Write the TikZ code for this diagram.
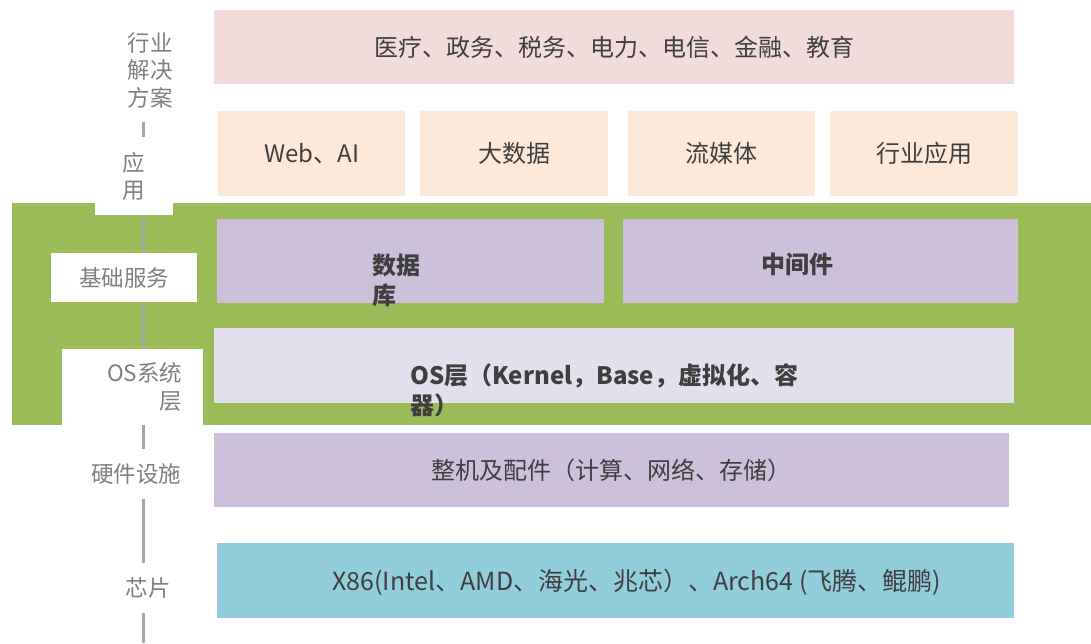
\documentclass[tikz,border=0pt]{standalone}
\usepackage{fontspec}
\setmainfont{Noto Sans CJK SC}
\usepackage{tikz}
\usetikzlibrary{positioning}
\definecolor{tradepink}{HTML}{F2DCDB}
\definecolor{apppeach}{HTML}{FDE9D9}
\definecolor{basegreen}{HTML}{9BBB59}
\definecolor{lilac}{HTML}{CCC0DA}
\definecolor{palelilac}{HTML}{E4DFEC}
\definecolor{chipblue}{HTML}{92CDDC}
\definecolor{ink}{HTML}{3F3F3F}
\definecolor{tagtext}{HTML}{808080}
\definecolor{spine}{HTML}{A6A6A6}

\begin{document}
\begin{tikzpicture}[x=1pt,y=-1pt,% one unit = one pixel of the slide
			every node/.style={
				align=center,  		% so that "\\" breaks the line
				inner sep=0pt,
				text=ink,
				font=\fontsize{24}{28}\selectfont
			},
			layer/.style={rectangle,anchor=north west},
			tag/.style={rectangle,fill=white,text=tagtext,font=\fontsize{22.5}{27.5}\selectfont},
			heavy/.style={font=\fontsize{24}{30}\selectfont\bfseries,text=ink}
		]
		\useasboundingbox (0,0) rectangle (1091,643);
		% green band behind base services and OS layer
		\node[layer,fill=basegreen,minimum width=1079,minimum height=222](band) at (12,203){};
		% grey spine on the left
		\coordinate (spinetop) at (143,122);
		\coordinate (spinebot) at (143,643);
		\draw[spine,line width=3pt] (spinetop) -- (spinebot);
		% left hand tags
		\node[tag,fill=none](sol) at (150,70){行业\\解决\\方案};
		\node[tag,layer,minimum width=78,minimum height=78](app) at (95,137){应\\用};
		\node[tag,layer,minimum width=146,minimum height=49](base) at (51,253){基础服务};
		\node[tag,layer,minimum width=141,minimum height=76,text width=99,inner xsep=21,align=right](oslvl) at (62,349){OS系统\\层};
		\node[tag,minimum height=50](hwl) at (136,474){硬件设施};
		\node[tag,minimum height=50](chipl) at (148,588){芯片};
		% layers
		\node[layer,fill=tradepink,minimum width=800,minimum height=74](trade) at (214,10){医疗、政务、税务、电力、电信、金融、教育};
		\node[layer,fill=apppeach,minimum width=187,minimum height=85](web) at (218,111){Web、AI};
		\node[layer,fill=apppeach,minimum width=188,minimum height=85](bigdata) at (420,111){大数据};
		\node[layer,fill=apppeach,minimum width=187,minimum height=85](media) at (628,111){流媒体};
		\node[layer,fill=apppeach,minimum width=188,minimum height=85](industry) at (830,111){行业应用};
		\node[layer,fill=lilac,minimum width=387,minimum height=84](db) at (217,219){};
		\node[heavy,anchor=north west,align=left](dbtxt) at ([xshift=155pt,yshift=-35pt]db.north west){数据\\库};
		\node[layer,fill=lilac,minimum width=395,minimum height=84](mid) at (623,219){};
		\node[heavy](midtxt) at ([xshift=-23pt,yshift=-3pt]mid.center){中间件};
		\node[layer,fill=palelilac,minimum width=800,minimum height=75](os) at (214,328){};
		\node[heavy,anchor=north west,align=left](ostxt) at ([xshift=196pt,yshift=-35pt]os.north west){OS层（Kernel，Base，虚拟化、容\\器）};
		\node[layer,fill=lilac,minimum width=795,minimum height=74](hw) at (214,433){整机及配件（计算、网络、存储）};
		\node[layer,fill=chipblue,minimum width=797,minimum height=75](chip) at (217,543){};
		\node[font=\fontsize{25}{30}\selectfont](chiptxt) at ([xshift=21pt,yshift=-2pt]chip.center){X86(Intel、AMD、海光、兆芯）、Arch64 (飞腾、鲲鹏)};
	\end{tikzpicture}
\end{document}
